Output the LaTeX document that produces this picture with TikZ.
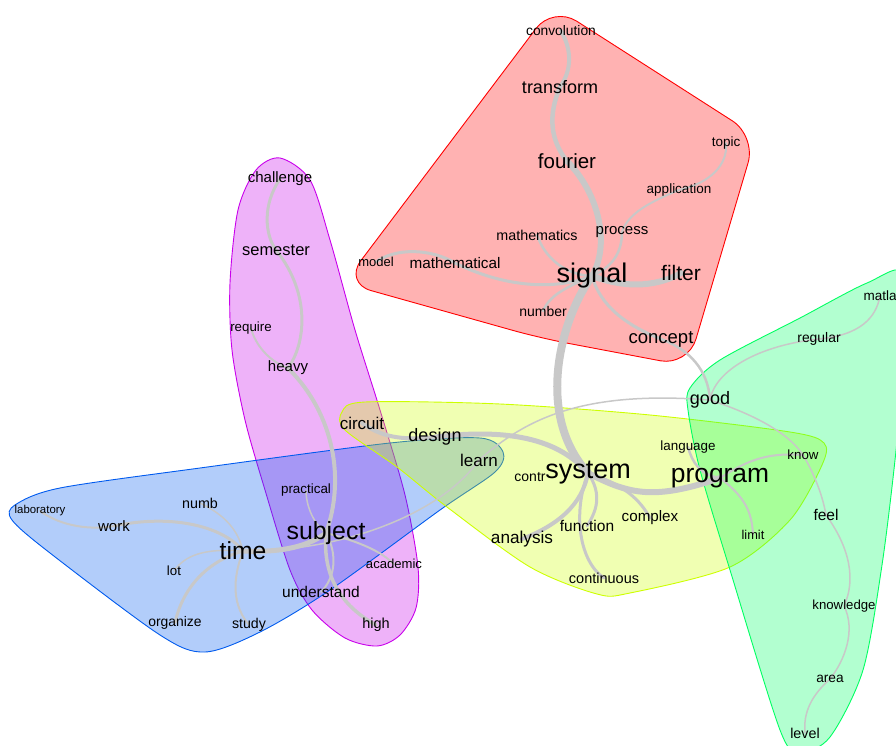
\documentclass[tikz,border=0pt]{standalone}
\usepackage{fontspec}
\setmainfont{Liberation Sans}
\definecolor{edgegray}{RGB}{200,200,200}
\definecolor{hullred}{RGB}{255,0,0}
\definecolor{hullpink}{RGB}{200,0,235}
\definecolor{hullblue}{RGB}{0,90,238}
\definecolor{hullyellow}{RGB}{205,255,0}
\definecolor{hullgreen}{RGB}{0,255,98}
\pgfdeclarelayer{hulls}
\pgfdeclarelayer{links}
\pgfsetlayers{hulls,links,main}
\tikzset{
  lbl/.style={inner sep=0pt,text=black,font=\fontsize{#1}{#1}\selectfont},
  lnk/.style={draw=edgegray,line width=#1,line cap=round},
  hull/.style={draw=#1,fill=#1,fill opacity=0.3,line width=0.9pt}
}
\begin{document}
\begin{tikzpicture}[x=1pt,y=-1pt]
      \useasboundingbox (0,0) rectangle (896,746);
      \path
        (561,31) node[lbl=13.8] (convolution){convolution}
        (560,87) node[lbl=18] (transform){transform}
        (567,161) node[lbl=20.5] (fourier){fourier}
        (726,143) node[lbl=13.5] (topic){topic}
        (679,190) node[lbl=13.5] (application){application}
        (622,232) node[lbl=15] (process){process}
        (537,235) node[lbl=14.3] (mathematics){mathematics}
        (376,262) node[lbl=13] (model){model}
        (455,263) node[lbl=15.3] (mathematical){mathematical}
        (592,276) node[lbl=27] (signal){signal}
        (681,273) node[lbl=21] (filter){filter}
        (543,311) node[lbl=14] (number){number}
        (661,339) node[lbl=18.5] (concept){concept}
        (280,179) node[lbl=15] (challenge){challenge}
        (276,250) node[lbl=16.5] (semester){semester}
        (251,328) node[lbl=13.3] (require){require}
        (288,368) node[lbl=15] (heavy){heavy}
        (362,423) node[lbl=17] (circuit){circuit}
        (435,437) node[lbl=18] (design){design}
        (479,460) node[lbl=17] (learn){learn}
        (530,477) node[lbl=14] (contr){contr}
        (588,473) node[lbl=27] (system){system}
        (688,447) node[lbl=13.4] (language){language}
        (720,478) node[lbl=26.4] (program){program}
        (650,518) node[lbl=15.2] (complex){complex}
        (587,526) node[lbl=15.5] (function){function}
        (522,539) node[lbl=17.2] (analysis){analysis}
        (604,578) node[lbl=14.5] (continuous){continuous}
        (710,400) node[lbl=18] (good){good}
        (803,455) node[lbl=13.3] (know){know}
        (753,535) node[lbl=12.8] (limit){limit}
        (826,515) node[lbl=15.5] (feel){feel}
        (844,606) node[lbl=13.2] (knowledge){knowledge}
        (830,679) node[lbl=13.7] (area){area}
        (805,733) node[lbl=14.3] (level){level}
        (819,339) node[lbl=13.9] (regular){regular}
        (880,296) node[lbl=13.5] (matla){matla}
        (40,511) node[lbl=11.4] (laboratory){laboratory}
        (114,526) node[lbl=15] (work){work}
        (200,503) node[lbl=14.3] (numb){numb}
        (243,551) node[lbl=24.7] (time){time}
        (174,571) node[lbl=13.3] (lot){lot}
        (175,623) node[lbl=13.9] (organize){organize}
        (249,625) node[lbl=14.2] (study){study}
        (306,490) node[lbl=13.4] (practical){practical}
        (326,533) node[lbl=24.9] (subject){subject}
        (394,564) node[lbl=13.1] (academic){academic}
        (321,592) node[lbl=15.5] (understand){understand}
        (376,625) node[lbl=14.5] (high){high};
      \begin{pgfonlayer}{hulls}
        \path[hull=hullred,rounded corners=28pt]
          (553,6) -- (756,136) -- (688,366) -- (540,338) -- (344,283) -- cycle;
        \path[hull=hullpink] plot[smooth cycle] coordinates {(280,158) (310,180) (330,240) (355,330) (380,410) (405,495) (418,567) (416,608) (400,635) (377,646) (345,638) (312,610) (290,570) (265,490) (245,420) (232,350) (230,283) (238,210) (256,170)};
        \path[hull=hullblue] plot[smooth cycle] coordinates {(15,505) (60,488) (200,468) (390,443) (480,438) (503,452) (495,472) (440,510) (330,590) (260,632) (205,652) (160,635) (50,553) (12,520)};
        \path[hull=hullyellow] plot[smooth cycle] coordinates {(342,412) (365,402) (500,404) (650,415) (790,432) (824,443) (822,465) (790,520) (730,567) (630,593) (597,594) (530,567) (447,507) (397,467) (345,430)};
        \path[hull=hullgreen] plot[smooth cycle] coordinates {(690,388) (720,360) (800,318) (867,283) (905,275) (902,380) (895,460) (882,565) (863,670) (830,737) (800,752) (780,730) (730,570) (700,470) (688,410)};
      \end{pgfonlayer}
      \begin{pgfonlayer}{links}
        \draw[lnk=4pt] (convolution.center) .. controls (572,50) and (572,70) .. (transform.center);
        \draw[lnk=4.5pt] (transform.center) .. controls (548,115) and (550,140) .. (fourier.center);
        \draw[lnk=6pt] (fourier.center) .. controls (600,195) and (610,245) .. (signal.center);
        \draw[lnk=8pt] (signal.center) .. controls (560,320) and (535,415) .. (system.center);
        \draw[lnk=6pt] (signal.center) .. controls (630,290) and (660,285) .. (filter.center);
        \draw[lnk=3pt] (mathematical.center) .. controls (500,285) and (550,292) .. (signal.center);
        \draw[lnk=3pt] (model.center) .. controls (395,248) and (430,248) .. (mathematical.center);
        \draw[lnk=2.5pt] (mathematics.center) .. controls (545,258) and (565,275) .. (signal.center);
        \draw[lnk=2.5pt] (process.center) .. controls (622,255) and (610,268) .. (signal.center);
        \draw[lnk=2pt] (process.center) .. controls (628,212) and (655,200) .. (application.center);
        \draw[lnk=2pt] (application.center) .. controls (710,183) and (728,165) .. (topic.center);
        \draw[lnk=2.5pt] (number.center) .. controls (550,295) and (565,288) .. (signal.center);
        \draw[lnk=3pt] (signal.center) .. controls (600,305) and (625,325) .. (concept.center);
        \draw[lnk=2.5pt] (concept.center) .. controls (690,350) and (708,370) .. (good.center);
        \draw[lnk=3pt] (challenge.center) .. controls (262,205) and (265,235) .. (semester.center);
        \draw[lnk=3pt] (semester.center) .. controls (312,295) and (305,345) .. (heavy.center);
        \draw[lnk=2pt] (require.center) .. controls (255,345) and (270,362) .. (heavy.center);
        \draw[lnk=4pt] (heavy.center) .. controls (335,415) and (345,480) .. (subject.center);
        \draw[lnk=1.5pt] (practical.center) .. controls (306,508) and (315,525) .. (subject.center);
        \draw[lnk=2pt] (subject.center) .. controls (338,555) and (335,578) .. (understand.center);
        \draw[lnk=3.5pt] (subject.center) .. controls (322,580) and (345,608) .. (high.center);
        \draw[lnk=2pt] (subject.center) .. controls (372,545) and (385,556) .. (academic.center);
        \draw[lnk=5pt] (time.center) .. controls (285,553) and (310,545) .. (subject.center);
        \draw[lnk=2pt] (laboratory.center) .. controls (62,527) and (92,530) .. (work.center);
        \draw[lnk=3pt] (work.center) .. controls (175,513) and (225,528) .. (time.center);
        \draw[lnk=1.5pt] (numb.center) .. controls (225,515) and (238,530) .. (time.center);
        \draw[lnk=1.5pt] (lot.center) .. controls (185,555) and (205,548) .. (time.center);
        \draw[lnk=3pt] (organize.center) .. controls (182,590) and (205,562) .. (time.center);
        \draw[lnk=2pt] (study.center) .. controls (228,600) and (236,570) .. (time.center);
        \draw[lnk=1.5pt] (time.center) .. controls (340,552) and (440,515) .. (learn.center);
        \draw[lnk=1.5pt] (learn.center) .. controls (525,420) and (580,390) .. (good.center);
        \draw[lnk=4pt] (circuit.center) .. controls (380,436) and (400,441) .. (design.center);
        \draw[lnk=5pt] (design.center) .. controls (525,426) and (565,447) .. (system.center);
        \draw[lnk=4pt] (system.center) .. controls (582,505) and (558,525) .. (analysis.center);
        \draw[lnk=3pt] (system.center) .. controls (572,515) and (580,562) .. (continuous.center);
        \draw[lnk=3pt] (system.center) .. controls (603,495) and (596,512) .. (function.center);
        \draw[lnk=6pt] (system.center) .. controls (630,495) and (655,500) .. (program.center);
        \draw[lnk=3pt] (system.center) .. controls (625,485) and (640,500) .. (complex.center);
        \draw[lnk=2.5pt] (language.center) .. controls (692,462) and (700,475) .. (program.center);
        \draw[lnk=2pt] (program.center) .. controls (745,462) and (765,452) .. (know.center);
        \draw[lnk=2pt] (program.center) .. controls (745,497) and (752,512) .. (limit.center);
        \draw[lnk=1.5pt] (good.center) .. controls (715,370) and (760,345) .. (regular.center);
        \draw[lnk=1.5pt] (regular.center) .. controls (860,335) and (876,318) .. (matla.center);
        \draw[lnk=1.5pt] (good.center) .. controls (765,418) and (792,438) .. (know.center);
        \draw[lnk=1.5pt] (know.center) .. controls (812,470) and (822,492) .. (feel.center);
        \draw[lnk=1.5pt] (feel.center) .. controls (850,548) and (856,580) .. (knowledge.center);
        \draw[lnk=1.5pt] (knowledge.center) .. controls (856,630) and (845,660) .. (area.center);
        \draw[lnk=1.5pt] (area.center) .. controls (812,695) and (803,712) .. (level.center);
      \end{pgfonlayer}
    \end{tikzpicture}
\end{document}
